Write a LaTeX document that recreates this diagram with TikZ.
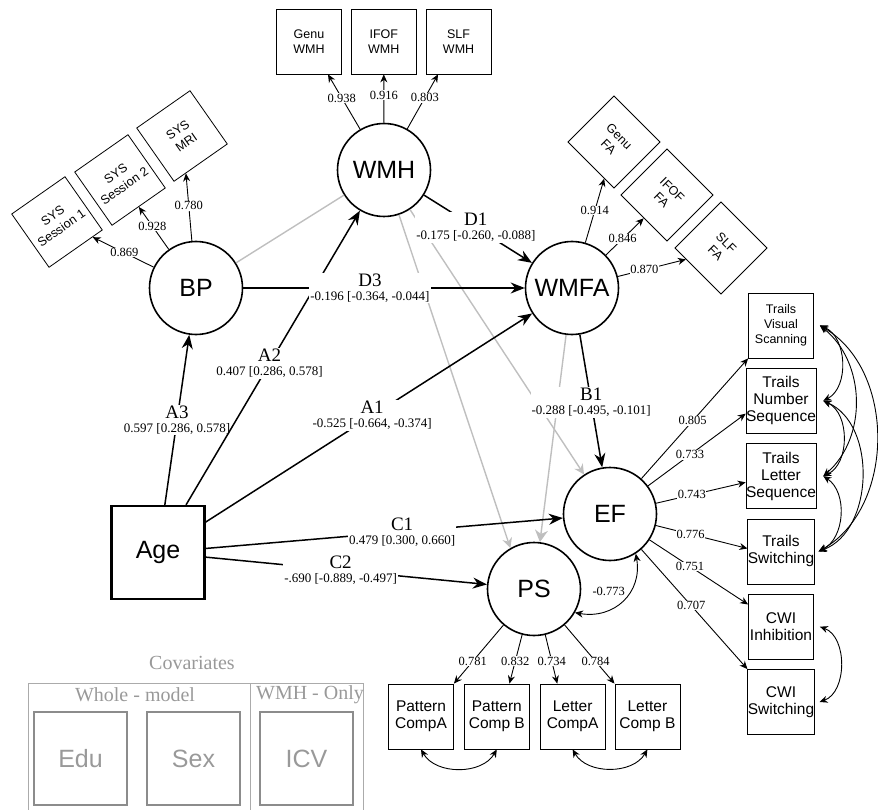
\documentclass[tikz,border=0pt]{standalone}
\usepackage{fontspec}
\setmainfont{Liberation Serif}
\setsansfont{Liberation Sans}
\usetikzlibrary{positioning,arrows.meta}

% path label: letter on top, estimate and interval below
\newcommand{\plab}[2]{{\fontsize{19}{14}\selectfont #1}\\#2}

\begin{document}
\begin{tikzpicture}[
  x=1pt, y=1pt,
  lat/.style={draw,circle,line width=1.6pt,minimum size=93pt,inner sep=0pt,font=\sffamily\fontsize{25}{28}\selectfont},
  obs/.style={draw,line width=2.2pt,minimum size=93pt,inner sep=0pt,font=\sffamily\fontsize{25}{28}\selectfont},
  ind/.style={draw,line width=0.8pt,minimum size=65pt,inner sep=0pt,align=center,font=\sffamily\fontsize{12.5}{15}\selectfont},
  indb/.style={ind,font=\sffamily\fontsize{15.5}{17}\selectfont},
  lab/.style={fill=white,inner sep=1pt,align=center,font=\fontsize{13}{14}\selectfont},
  ld/.style={fill=white,inner sep=0.5pt,font=\fontsize{12.5}{14}\selectfont},
  a/.style={-{Stealth[length=14pt,width=11pt]},line width=1.5pt},
  la/.style={-{Stealth[length=8pt,width=7pt]},line width=0.9pt},
  cov/.style={{Stealth[length=8pt,width=7pt]}-{Stealth[length=8pt,width=7pt]},line width=0.9pt},
  gl/.style={draw=black!25,line width=1.4pt},
  ga/.style={gl,-{Stealth[length=10pt,width=10pt]}},
  cvbox/.style={draw=black!45,line width=2pt,minimum size=93pt,inner sep=0pt,text=black!40,font=\sffamily\fontsize{25}{28}\selectfont},
  cvtxt/.style={text=black!40,font=\fontsize{20}{22}\selectfont},
]
  \useasboundingbox (0,0) rectangle (878,-810);

  % latent variables and age
  \node[lat] (bp)   at (196,-288) {BP};
  \node[lat] (wmh)  at (384,-170) {WMH};
  \node[lat] (wmfa) at (572,-288) {WMFA};
  \node[lat] (ef)   at (610,-514) {EF};
  \node[lat] (ps)   at (534,-589) {PS};
  \node[obs] (age)  at (158,-552.5) {Age};

  % blood pressure indicators
  \node[ind,rotate=35] (sys1)   at (57,-222)  {SYS\\Session 1};
  \node[ind,rotate=35] (sys2)   at (120,-180) {SYS\\Session 2};
  \node[ind,rotate=35] (sysmri) at (182,-136) {SYS\\MRI};

  % WMH indicators
  \node[ind] (genuw) at (309,-41.5) {Genu\\WMH};
  \node[ind,right=9pt of genuw] (ifofw) {IFOF\\WMH};
  \node[ind,right=9pt of ifofw] (slfw)  {SLF\\WMH};

  % FA indicators
  \node[ind,rotate=-45] (genufa) at (614,-142) {Genu\\FA};
  \node[ind,rotate=-45] (ifofa)  at (667,-195) {IFOF\\FA};
  \node[ind,rotate=-45] (slffa)  at (721,-248) {SLF\\FA};

  % EF indicators
  \node[ind] (tvs) at (781,-325.5) {Trails\\Visual\\Scanning};
  \node[indb,below=9.5pt of tvs]  (tns)  {Trails\\Number\\Sequence};
  \node[indb,below=9.5pt of tns]  (tls)  {Trails\\Letter\\Sequence};
  \node[indb,below=9.5pt of tls]  (tsw)  {Trails\\Switching};
  \node[indb,below=9.5pt of tsw]  (cwii) {CWI\\Inhibition};
  \node[indb,below=9.5pt of cwii] (cwis) {CWI\\Switching};

  % PS indicators
  \node[indb] (pata) at (421,-716.5) {Pattern\\CompA};
  \node[indb,right=10pt of pata] (patb) {Pattern\\Comp B};
  \node[indb,right=10pt of patb] (leta) {Letter\\CompA};
  \node[indb,right=9pt of leta]  (letb) {Letter\\Comp B};

  % grey paths
  \draw[gl] (bp) -- (wmh);
  \draw[ga] (wmh) -- (ps.120);
  \draw[ga] (wmh) -- (ef);
  \draw[ga,-{Stealth[length=12pt,width=13pt]}] (wmfa) -- (ps);

  % structural paths
  \draw[a] (age) -- node[lab,pos=.5]  {\plab{A3}{0.597 [0.286, 0.578]}} (bp);
  \draw[a] (age) -- node[lab,pos=.48] {\plab{A2}{0.407 [0.286, 0.578]}} (wmh);
  \draw[a] (age) -- node[lab,pos=.51] {\plab{A1}{-0.525 [-0.664, -0.374]}} (wmfa);
  \draw[a] (age) -- node[lab,pos=.55] {\plab{C1}{0.479 [0.300, 0.660]}} (ef);
  \draw[a] (age) -- node[lab,pos=.48] {\plab{C2}{-.690 [-0.889, -0.497]}} (ps);
  \draw[a] (bp) -- node[lab,pos=.45] {\plab{D3}{-0.196 [-0.364, -0.044]}} (wmfa);
  \draw[a] (wmh) -- node[lab,pos=.48] {\plab{D1}{-0.175 [-0.260, -0.088]}} (wmfa);
  \draw[a] (wmfa) -- node[lab,pos=.51] {\plab{B1}{-0.288 [-0.495, -0.101]}} (ef);

  % loadings
  \draw[la] (bp) -- node[ld,pos=.48] {0.869} (sys1.-58);
  \draw[la] (bp) -- node[ld,pos=.55] {0.928} (sys2.south);
  \draw[la] (bp) -- node[ld,pos=.52] {0.780} (sysmri.-119);
  \draw[la] (wmh) -- node[ld,pos=.57] {0.938} (genuw.-60);
  \draw[la] (wmh) -- node[ld,pos=.57] {0.916} (ifofw.south);
  \draw[la] (wmh) -- node[ld,pos=.57] {0.803} (slfw.-122);
  \draw[la] (wmfa) -- node[ld,pos=.5]  {0.914} (genufa.-60);
  \draw[la] (wmfa) -- node[ld,pos=.44] {0.846} (ifofa.south);
  \draw[la] (wmfa) -- node[ld,pos=.39] {0.870} (slffa.-117);
  \draw[la] (ef) -- node[ld,pos=.48] {0.805} (tvs.south west);
  \draw[la] (ef) -- node[ld,pos=.43] {0.733} (tns.200);
  \draw[la] (ef) -- node[ld,pos=.4]  {0.743} (tls.190);
  \draw[la] (ef) -- node[ld,pos=.38] {0.776} (tsw.175);
  \draw[la] (ef) -- node[ld,pos=.41] {0.751} (cwii.146);
  \draw[la] (ef) -- node[ld,pos=.47] {0.707} (cwis.north west);
  \draw[la] (ps) -- node[ld,pos=.62] {0.781} (pata.north east);
  \draw[la] (ps) -- node[ld,pos=.54] {0.832} (patb.69);
  \draw[la] (ps) -- node[ld,pos=.54] {0.734} (leta.115);
  \draw[la] (ps) -- node[ld,pos=.62] {0.784} (letb.north west);

  % residual covariances
  \draw[cov] (ef.-57) to[out=-80,in=-10,looseness=1.2]
    node[pos=.38,left=1pt,font=\fontsize{12.5}{14}\selectfont] {-0.773} (ps.-30);
  \draw[cov] (pata.south) to[out=-60,in=-120] (patb.south);
  \draw[cov] (leta.south) to[out=-60,in=-120] (letb.south);
  \draw[cov] ([xshift=6pt]tvs.east) to[bend left=65] ([xshift=7pt]tns.east);
  \draw[cov] ([xshift=6pt]tvs.east) to[bend left=50] ([xshift=7pt]tls.east);
  \draw[cov] ([xshift=6pt]tvs.east) to[bend left=60] ([xshift=4pt]tsw.east);
  \draw[cov] ([xshift=7pt]tns.east) to[bend left=65] ([xshift=7pt]tls.east);
  \draw[cov] ([xshift=7pt]tns.east) to[bend left=68] ([xshift=4pt]tsw.east);
  \draw[cov] ([xshift=7pt]tls.east) to[bend left=60] ([xshift=4pt]tsw.east);
  \draw[cov] ([xshift=6pt]cwii.east) to[bend left=70] ([xshift=5pt]cwis.east);

  % covariates
  \node[cvtxt] (covt) at (192,-663) {Covariates};
  \draw[draw=black!33,line width=0.9pt] (28,-815) |- (363,-683) -- (363,-815);
  \draw[draw=black!33,line width=0.9pt] (250,-683) -- (250,-815);
  \node[cvtxt] (whole) at (135,-695) {Whole - model};
  \node[cvtxt] (only)  at (310,-695) {WMH - Only};
  \node[cvbox] (edu) at (80.5,-758.5)  {Edu};
  \node[cvbox] (sex) at (193.5,-758.5) {Sex};
  \node[cvbox] (icv) at (306.5,-758.5) {ICV};
\end{tikzpicture}
\end{document}
